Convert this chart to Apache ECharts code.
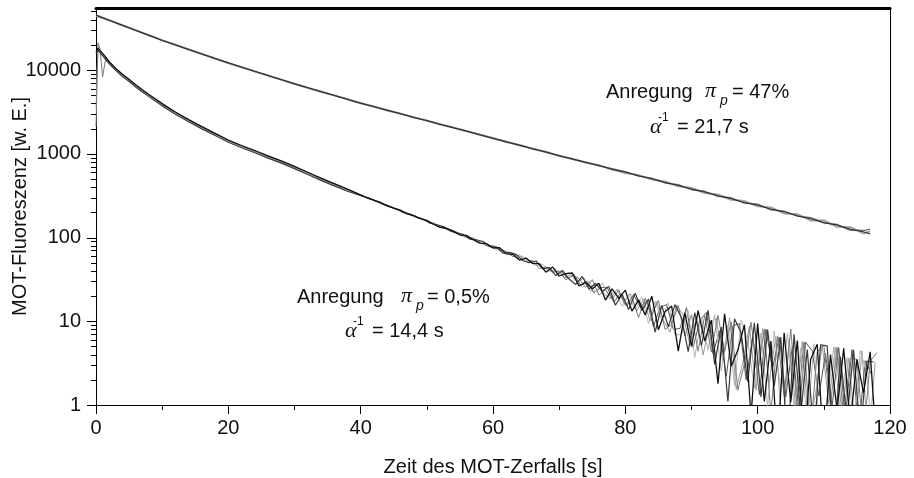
<!DOCTYPE html>
<html>
<head>
<meta charset="utf-8">
<script src="https://cdn.jsdelivr.net/npm/echarts@6/dist/echarts.min.js"></script>
<style>
html,body{margin:0;padding:0;background:#fff;}
#chart{width:914px;height:478px;}
</style>
</head>
<body>
<div id="chart"></div>
<script>
// ---------- DATA ----------
// upper group (Anregung pi_p = 47%), three measured traces
const topTimes = [0,2,4,6,8,10,12,14,16,18,20,22,24,26,28,30,32,34,36,38,40,42,44,46,48,50,52,54,56,58,60,62,64,66,68,70,72,74,76,78,80,82,84,86,88,90,92,94,96,98,100,102,104,106,108,110,112,114,116,117];
const topA = [45000,39100,34300,29600,26100,22500,20000,17500,15600,13650,
  12200,10750,9680,8560,7700,6800,6160,5500,4990,4450,
  4010,3660,3300,3020,2700,2490,2250,2040,1870,1680,
  1530,1385,1270,1145,1050,945,868,786,724,652,
  604,545,503,452,420,378,350,314,292,260,
  244,218,203,181,168,150,141,126,117,110];
const topB = [45600,39500,34000,30000,25800,22700,19850,17750,15450,13800,
  12050,10880,9580,8640,7620,6860,6110,5560,4950,4500,
  4040,3630,3330,2990,2760,2470,2260,2060,1850,1700,
  1520,1400,1255,1160,1040,955,860,798,716,664,
  612,540,512,448,428,372,356,310,298,258,
  250,214,206,180,172,150,143,122,121,126];
const topC = [44500,39300,34250,29800,26000,22600,20050,17600,15550,13700,
  12150,10800,9620,8580,7680,6840,6150,5510,4980,4470,
  4000,3670,3290,3030,2720,2500,2240,2050,1870,1690,
  1540,1380,1275,1140,1055,940,872,784,728,650,
  590,556,492,466,408,390,340,326,282,272,
  236,228,194,190,160,160,134,133,112,118];

// lower group (Anregung pi_p = 0,5%), measured traces
const headTimes = [0,0.3,0.6,1,1.5,2,3,4,5,6,7,8,9,10,12,14,16,18,20,22,24,26,28,30,32,34,36,38];
const headA = [16500,18100,17500,15800,14100,12550,10430,8880,7740,6660,5800,5110,4510,3970,3150,2560,2105,1752,1458,1255,1093,941,820,706,601,511,440,379];
const headB = [15800,17100,16500,14870,13250,11810,9820,8360,7290,6270,5460,4810,4240,3730,2970,2410,1982,1649,1372,1181,1029,886,772,664,565,481,414,357];
const headC = [2100,21000,18000,8300,14300,12400,10300,8750,7620,6560,5700,5020,4430,3900,3100,2520,2070,1720,1432,1232,1074,925,806,694,591,502,432,373];
const headD = [3500,19000,17300,15300,13700,12150,10100,8600,7490,6440,5610,4940,4360,3830,3040,2470,2030,1690,1405,1210,1054,907,790,680,579,492,424,366];

const tailTimesInt = [40,41,42,43,44,45,46,47,48,49,50,51,52,53,54,55,56,57,58,59,60,61,62,63,64,65,66,67,68,69,70,71,72,73,74,75,76,77,78,79,80,81,82,83,84,85,86,87,88,89,90,91,92,93,94,95,96,97,98,99,100,101,102,103,104,105,106,107,108,109,110,111,112,113,114,115,116,117,118];
const tailTimesHalf = [40.5,41.5,42.5,43.5,44.5,45.5,46.5,47.5,48.5,49.5,50.5,51.5,52.5,53.5,54.5,55.5,56.5,57.5,58.5,59.5,60.5,61.5,62.5,63.5,64.5,65.5,66.5,67.5,68.5,69.5,70.5,71.5,72.5,73.5,74.5,75.5,76.5,77.5,78.5,79.5,80.5,81.5,82.5,83.5,84.5,85.5,86.5,87.5,88.5,89.5,90.5,91.5,92.5,93.5,94.5,95.5,96.5,97.5,98.5,99.5,100.5,101.5,102.5,103.5,104.5,105.5,106.5,107.5,108.5,109.5,110.5,111.5,112.5,113.5,114.5,115.5,116.5,117.5];
const tailTimesQ1 = [70.25,71.25,72.25,73.25,74.25,75.25,76.25,77.25,78.25,79.25,80.25,81.25,82.25,83.25,84.25,85.25,86.25,87.25,88.25,89.25,90.25,91.25,92.25,93.25,94.25,95.25,96.25,97.25,98.25,99.25,100.25,101.25,102.25,103.25,104.25,105.25,106.25,107.25,108.25,109.25,110.25,111.25,112.25,113.25,114.25,115.25,116.25,117.25];
const tailTimesQ3 = [70.75,71.75,72.75,73.75,74.75,75.75,76.75,77.75,78.75,79.75,80.75,81.75,82.75,83.75,84.75,85.75,86.75,87.75,88.75,89.75,90.75,91.75,92.75,93.75,94.75,95.75,96.75,97.75,98.75,99.75,100.75,101.75,102.75,103.75,104.75,105.75,106.75,107.75,108.75,109.75,110.75,111.75,112.75,113.75,114.75,115.75,116.75,117.75];
const tailA = [323,296,279,263,239,224,212,191,183,168,
  160,144,132,129,119,107,106,94.3,85.7,84.6,
  74.9,75.6,63.7,63.1,53.8,56.8,49.1,48.7,38.5,44.5,
  34.7,37.1,37.7,26.4,29.3,24.4,28.5,17.9,24.3,18.8,
  23.5,13.2,18,11.9,19.9,7.9,13,15.2,4.4,12.7,
  5,13.4,5.8,10.3,1.8,12.3,2.9,4.5,9.1,0.75,
  9.4,1.1,5.8,0.3,7.3,1.08,5.87,0.3,3.49,5.32,
  0.3,4.01,0.87,4.74,0.62,3.51,1.4,4.31,0.3];
const tailB = [308,291,267,247,234,217,198,191,174,165,
  148,142,135,120,113,109,95.6,94,89.6,77.7,
  77.2,65.1,66.4,62.9,52.8,49.9,52.4,42.1,44,35.1,
  40.4,31.9,27.5,34.3,24.3,28.4,22.7,26.1,15.5,21.1,
  13.8,21.6,13.4,18.4,7.4,15.4,8.6,15.8,11,4.35,
  12.7,5.1,13.55,3.05,8.55,1.1,10.7,7.3,1.9,9.6,
  1.25,7.95,1.68,6.43,0.3,6.97,0.77,4.58,0.4,5.24,
  5.08,0.3,3.8,0.68,4.56,0.45,3.35,3.26];
const tailC = [320,301,275,259,244,222,208,197,178,172,
  156,149,137,124,120,112,100,98.3,87.7,79.6,
  79.9,70.6,68.7,59.1,61.8,51.8,53.1,42.7,44.5,38.5,
  39.7,31.1,35.7,32.4,25.3,31.4,20.5,23.9,18.3,23.8,
  15.5,19.2,11,18.9,11.9,17.9,8,9.2,15.4,6.7,
  12,4.4,11.8,4.3,11.8,4.3,9.9,1.5,3.1,9.75,
  2.4,8.1,0.8,6.56,1.31,8.08,0.87,5.67,0.49,4.32,
  5.16,1.01,4.87,0.74,3.62,3.51,0.4,3.31,4.22];
const tailD = [311,286,271,249,229,218,203,186,178,160,
  153,138,130,125,116,102,99.6,90,88.6,80.7,
  71.2,71.1,62.4,56.9,59.8,50.9,46.4,48.1,39,42.1,
  34.4,37.9,30.5,25.3,30.3,22.4,28.7,20.1,22.5,15.1,
  20.8,13.6,19.4,9.4,17.4,10.4,16.6,6.8,7,13.35,
  3.7,11.1,4.55,12.05,2.55,9.1,1.7,10.3,5.9,1.6,
  7.25,0.95,7.68,1.43,7.2,0.97,4.77,0.58,5.4,0.3,
  1.08,4.94,0.8,3.68,0.56,4.45,2.35,0.3];
const tailE = [40,32.4,36.1,26.9,29.8,21.9,25.1,25.5,16.9,21.5,
  15.2,20.9,14.7,17.6,8.6,14.7,15.8,8,8.2,14.5,
  4.85,10.25,12.7,4.15,7.7,2.2,8.8,9.4,2.0,6.65,
  1.33,8.03,2.75,6.5,1.25,5.03,0.82,5.62,4.45,1.28,
  4.12,0.97,4.84,0.71,4.59,0.48,3.38,2.28];
const tailF = [32.8,36.3,29,32.8,22.8,28,21.3,18.7,24.2,16.8,
  21.5,13.3,18.2,10.1,17.1,10.2,7.4,15.6,11.85,5.2,
  11.55,3.95,9.4,10.9,3.4,11,1.55,3.2,8.8,1.5,
  8.18,1.88,6.62,0.37,6.14,0.92,5.72,0.53,1.36,5.2,
  1.04,4.9,0.77,3.65,0.53,4.43,0.33,3.24];

// axis ticks
const xTickLabels = [0,20,40,60,80,100,120];
const yTickLabels = [1,10,100,1000,10000];
const yMinorTicks = [2,3,4,5,6,7,8,9,20,30,40,50,60,70,80,90,200,300,400,500,600,700,800,900,2000,3000,4000,5000,6000,7000,8000,9000,20000,30000,40000,50000];

// ---------- CHART ----------
function pairs(ts, vs){ return ts.map((t,i)=>[t, vs[i]]); }

const chart = echarts.init(document.getElementById('chart'), null, {renderer:'canvas'});
const FONT = '"Liberation Sans", Arial, Helvetica, sans-serif';

function lineSeries(data, color, width){
  return {type:'line', data:data, showSymbol:false, symbol:'none', clip:true,
    lineStyle:{color:color, width:width}, itemStyle:{color:color},
    animation:false, silent:true, z:2};
}

function tickSeries(values, len){
  return {
    type:'custom', xAxisIndex:0, yAxisIndex:0, clip:false, silent:true, animation:false, z:5,
    data: values.map(v=>[0, v]),
    renderItem: function(params, api){
      const p = api.coord([api.value(0), api.value(1)]);
      const y = Math.round(p[1]) + 0.5;
      const x = Math.round(p[0]);
      return {type:'line', shape:{x1:x-len, y1:y, x2:x, y2:y}, style:{stroke:'#000', lineWidth:1}};
    }
  };
}

const bottomA = pairs(headTimes, headA).concat(pairs(tailTimesInt, tailA));
const bottomB = pairs(headTimes, headB).concat(pairs(tailTimesHalf, tailB));
const bottomC = pairs(headTimes, headC).concat(pairs(tailTimesInt, tailC));
const bottomD = pairs(headTimes, headD).concat(pairs(tailTimesHalf, tailD));
const bottomE = pairs(tailTimesQ1, tailE);
const bottomF = pairs(tailTimesQ3, tailF);

function txt(x, y, s, font){
  return {type:'text', x:x, y:y, silent:true, z:10,
    style:{text:s, font:font, fill:'#111', textAlign:'left', textVerticalAlign:'middle'}};
}
const F20 = '20px ' + FONT;
const FSER = 'italic 22px "Liberation Serif", "DejaVu Serif", serif';
const FSUB = 'italic 14px ' + FONT;
const FSUP = '12px ' + FONT;

chart.setOption({
  backgroundColor:'#fff',
  animation:false,
  grid:{left:96, right:24, top:8, bottom:73, containLabel:false, outerBoundsMode:'none'},
  xAxis:[{
    type:'value', min:0, max:120, interval:20,
    axisLine:{show:true, onZero:false, lineStyle:{color:'#000', width:1}},
    axisTick:{show:true, inside:false, length:9, lineStyle:{color:'#000'}},
    minorTick:{show:true, splitNumber:2, length:5, lineStyle:{color:'#000'}},
    splitLine:{show:false},
    axisLabel:{show:true, margin:13, color:'#111', fontSize:20, fontFamily:FONT,
      formatter:function(v){ return xTickLabels.indexOf(v) >= 0 ? String(v) : ''; }},
    name:'Zeit des MOT-Zerfalls [s]', nameLocation:'middle', nameGap:52, nameMoveOverlap:false,
    nameTextStyle:{color:'#111', fontSize:20, fontFamily:FONT}
  },{
    type:'value', min:0, max:120, position:'top',
    axisLine:{show:true, onZero:false, lineStyle:{color:'#000', width:3}},
    axisTick:{show:false}, axisLabel:{show:false}, splitLine:{show:false}
  }],
  yAxis:[{
    type:'log', logBase:10, min:1, max:55000,
    axisLine:{show:true, onZero:false, lineStyle:{color:'#000', width:1}},
    axisTick:{show:false},
    splitLine:{show:false},
    axisLabel:{show:true, margin:15, color:'#111', fontSize:20, fontFamily:FONT, showMaxLabel:false,
      formatter:function(v){ const r = Math.round(v); return yTickLabels.indexOf(r) >= 0 ? String(r) : ''; }},
    name:'MOT-Fluoreszenz [w. E.]', nameLocation:'middle', nameGap:66, nameRotate:90, nameMoveOverlap:false,
    nameTextStyle:{color:'#111', fontSize:20, fontFamily:FONT}
  },{
    type:'value', min:0, max:1, position:'right',
    axisLine:{show:true, onZero:false, lineStyle:{color:'#000', width:1}},
    axisTick:{show:false}, axisLabel:{show:false}, splitLine:{show:false}
  }],
  series:[
    lineSeries(pairs(topTimes, topC), '#a0a0a0', 2),
    lineSeries(pairs(topTimes, topB), '#707070', 1.4),
    lineSeries(pairs(topTimes, topA), '#2a2a2a', 1),
    lineSeries(bottomF, '#9a9a9a', 1),
    lineSeries(bottomE, '#555555', 1),
    lineSeries(bottomD, '#b5b5b5', 1),
    lineSeries(bottomC, '#7a7a7a', 1),
    lineSeries(bottomB, '#3a3a3a', 1.2),
    lineSeries(bottomA, '#111111', 1.3),
    tickSeries(yTickLabels, 9),
    tickSeries(yMinorTicks, 5)
  ],
  graphic:[
    txt(606, 92, 'Anregung', F20),
    txt(705, 91, 'π', FSER),
    txt(720, 101, 'p', FSUB),
    txt(732, 92, '= 47%', F20),
    txt(650, 127, 'α', FSER),
    txt(658, 118, '-1', FSUP),
    txt(677, 127, '= 21,7 s', F20),

    txt(297, 297, 'Anregung', F20),
    txt(401, 296, 'π', FSER),
    txt(416, 306, 'p', FSUB),
    txt(427, 297, '= 0,5%', F20),
    txt(345, 331, 'α', FSER),
    txt(353, 322, '-1', FSUP),
    txt(372, 331, '= 14,4 s', F20)
  ]
});
</script>
</body>
</html>
